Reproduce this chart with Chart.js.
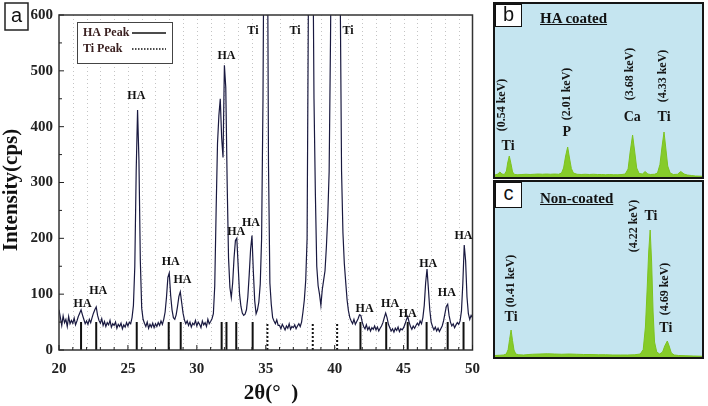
<!DOCTYPE html>
<html>
<head>
<meta charset="utf-8">
<script src="https://cdn.jsdelivr.net/npm/chart.js@4.4.0/dist/chart.umd.min.js"></script>
<style>
body{margin:0;background:#fff;width:708px;height:406px;overflow:hidden;position:relative;}
#xrd{position:absolute;left:0;top:0;}
.panel{position:absolute;left:493px;width:207px;border:2px solid #151515;background:#c5e5f0;}
#pb{top:2px;height:173px;}
#pc{top:180px;height:175px;}
.panel canvas{position:absolute;left:0;top:0;}
.tag{position:absolute;left:0;top:0;width:25px;height:21px;background:#fff;border:1.5px solid #111;
  font:20px "Liberation Sans",Arial,sans-serif;line-height:19px;text-align:center;color:#111;}
.ttl{position:absolute;left:45px;font:bold 15px "Liberation Serif","Times New Roman",serif;text-decoration:underline;color:#111;white-space:nowrap;}
</style>
</head>
<body>
<canvas id="xrd" width="490" height="406"></canvas>
<div class="panel" id="pb">
  <canvas id="edsB" width="207" height="173"></canvas>
  <div class="tag">b</div>
  <div class="ttl" style="top:6px">HA coated</div>
</div>
<div class="panel" id="pc">
  <canvas id="edsC" width="207" height="175"></canvas>
  <div class="tag" style="height:24px;line-height:21px">c</div>
  <div class="ttl" style="top:8px">Non-coated</div>
</div>
<script>
// ---- XRD spectrum (a) ----
const twoTheta = [
  20.0,20.1,20.2,20.3,20.4,20.5,20.6,20.7,20.8,20.9,
  21.0,21.1,21.2,21.3,21.4,21.5,21.6,21.7,21.8,21.9,
  22.0,22.1,22.2,22.3,22.4,22.5,22.6,22.7,22.8,22.9,
  23.0,23.1,23.2,23.3,23.4,23.5,23.6,23.7,23.8,23.9,
  24.0,24.1,24.2,24.3,24.4,24.5,24.6,24.7,24.8,24.9,
  25.0,25.1,25.2,25.3,25.4,25.5,25.6,25.7,25.8,25.9,
  26.0,26.1,26.2,26.3,26.4,26.5,26.6,26.7,26.8,26.9,
  27.0,27.1,27.2,27.3,27.4,27.5,27.6,27.7,27.8,27.9,
  28.0,28.1,28.2,28.3,28.4,28.5,28.6,28.7,28.8,28.9,
  29.0,29.1,29.2,29.3,29.4,29.5,29.6,29.7,29.8,29.9,
  30.0,30.1,30.2,30.3,30.4,30.5,30.6,30.7,30.8,30.9,
  31.0,31.1,31.2,31.3,31.4,31.5,31.6,31.7,31.8,31.9,
  32.0,32.1,32.2,32.3,32.4,32.5,32.6,32.7,32.8,32.9,
  33.0,33.1,33.2,33.3,33.4,33.5,33.6,33.7,33.8,33.9,
  34.0,34.1,34.2,34.3,34.4,34.5,34.6,34.7,34.8,34.9,
  35.0,35.1,35.2,35.3,35.4,35.5,35.6,35.7,35.8,35.9,
  36.0,36.1,36.2,36.3,36.4,36.5,36.6,36.7,36.8,36.9,
  37.0,37.1,37.2,37.3,37.4,37.5,37.6,37.7,37.8,37.9,
  38.0,38.1,38.2,38.3,38.4,38.5,38.6,38.7,38.8,38.9,
  39.0,39.1,39.2,39.3,39.4,39.5,39.6,39.7,39.8,39.9,
  40.0,40.1,40.2,40.3,40.4,40.5,40.6,40.7,40.8,40.9,
  41.0,41.1,41.2,41.3,41.4,41.5,41.6,41.7,41.8,41.9,
  42.0,42.1,42.2,42.3,42.4,42.5,42.6,42.7,42.8,42.9,
  43.0,43.1,43.2,43.3,43.4,43.5,43.6,43.7,43.8,43.9,
  44.0,44.1,44.2,44.3,44.4,44.5,44.6,44.7,44.8,44.9,
  45.0,45.1,45.2,45.3,45.4,45.5,45.6,45.7,45.8,45.9,
  46.0,46.1,46.2,46.3,46.4,46.5,46.6,46.7,46.8,46.9,
  47.0,47.1,47.2,47.3,47.4,47.5,47.6,47.7,47.8,47.9,
  48.0,48.1,48.2,48.3,48.4,48.5,48.6,48.7,48.8,48.9,
  49.0,49.1,49.2,49.3,49.4,49.5,49.6,49.7,49.8,49.9,
  50.0
];
const intensity = [
  72,58,44,61,49,55,42,60,47,53,
  48,57,45,52,60,66,72,63,55,47,
  52,46,55,49,58,66,72,77,62,53,
  48,56,44,51,42,49,45,53,41,47,
  44,50,39,46,42,48,38,45,41,49,
  43,50,47,58,80,150,320,430,340,160,
  75,55,48,42,50,39,46,41,48,40,
  47,42,49,44,52,46,55,68,95,130,
  138,98,72,58,55,63,78,96,104,85,
  66,54,47,52,44,50,41,48,45,53,
  43,50,46,40,52,45,49,42,55,47,
  51,56,65,115,250,370,420,450,380,345,
  510,470,300,165,112,94,120,165,196,200,
  150,100,78,66,62,64,72,95,135,180,
  205,140,88,65,72,86,118,200,450,900,
  1000,900,330,120,82,58,52,47,54,44,
  44,38,46,41,36,43,39,47,37,42,
  40,45,38,43,47,42,50,68,90,125,
  200,650,1000,1000,800,450,280,150,115,100,
  80,108,125,142,185,240,320,560,900,1000,
  1000,1000,1000,1000,650,320,210,155,122,90,
  70,58,52,47,55,46,51,56,63,62,
  50,42,38,45,36,41,34,40,37,43,
  36,41,34,39,43,49,58,66,58,46,
  40,34,38,32,39,35,41,33,38,36,
  40,46,54,60,50,42,37,43,39,44,
  48,44,52,47,58,80,120,145,110,72,
  50,42,36,41,34,39,33,38,43,52,
  65,78,82,62,50,43,47,40,45,49,
  46,52,70,120,188,160,95,65,55,62,
  58
];
// reference stick positions
const haPeaks = [21.6, 22.7, 25.64, 27.96, 28.83, 31.8, 32.15, 32.86, 34.05, 41.87, 43.74, 45.3, 46.67, 48.2, 49.35];
const tiPeaks = [35.12, 38.41, 40.18];
const stickHeight = 50;

// peak annotations: text, 2theta, cps
const xrdLabelText = ['HA','HA','HA','HA','HA','HA','HA','HA','Ti','Ti','Ti','HA','HA','HA','HA','HA','HA'];
const xrdLabelX = [21.71, 22.84, 25.61, 28.1, 28.96, 32.15, 32.86, 33.93, 34.07, 37.13, 40.97, 42.17, 44.02, 45.3, 46.79, 48.14, 49.35];
const xrdLabelY = [83, 106, 455, 158, 126, 527, 211, 228, 572, 572, 572, 74, 83, 65, 154, 103, 204];

// ---- EDS (b) HA coated ----
const keVB = [0.19,0.26,0.31,0.36,0.42,0.47,0.50,0.54,0.58,0.62,0.67,0.75,0.85,0.95,1.05,1.15,1.25,1.35,1.45,1.55,1.65,1.75,
  1.82,1.87,1.92,1.97,2.01,2.06,2.11,2.2,2.3,2.4,2.5,2.6,2.7,2.8,2.9,3.0,3.1,3.2,3.3,3.38,3.45,3.5,3.56,3.61,3.66,3.72,
  3.80,3.87,3.93,4.0,4.1,4.17,4.23,4.28,4.33,4.37,4.42,4.48,4.56,4.66,4.74,4.82,4.9,5.0,5.1,5.26];
const countsB = [40,60,100,60,50,120,280,420,270,100,50,45,50,55,50,55,60,55,60,55,60,55,
  80,180,420,600,400,170,80,55,50,55,50,55,50,50,45,50,45,45,50,60,160,500,840,520,180,70,
  60,110,60,50,55,80,250,600,900,600,220,80,50,55,110,60,40,30,20,15];
const edsLabelsB = [['(0.54 keV)',0.36,1440,true],['Ti',0.51,620,false],['(2.01 keV)',1.95,1660,true],['P',1.95,900,false],
  ['(3.68 keV)',3.5,2060,true],['Ca',3.55,1200,false],['(4.33 keV)',4.31,2020,true],['Ti',4.33,1200,false]];

// ---- EDS (c) Non-coated ----
const keVC = [-0.03,0.1,0.2,0.28,0.33,0.37,0.41,0.45,0.49,0.54,0.62,0.75,0.9,1.0,1.2,1.4,1.6,1.8,2.0,2.2,2.4,2.6,2.8,3.0,3.2,3.4,3.6,3.8,
  3.95,4.03,4.09,4.14,4.18,4.22,4.26,4.30,4.34,4.40,4.48,4.56,4.62,4.69,4.74,4.80,4.88,5.0,5.2,5.4,5.64];
const countsC = [30,35,40,60,150,350,540,330,140,60,45,40,50,55,60,65,60,55,60,55,50,50,45,45,40,40,40,45,
  60,150,600,1400,2100,2540,1900,900,300,100,60,100,220,320,220,80,40,30,25,20,15];
const edsLabelsC = [['(4.22 keV)',3.78,2620,true],['Ti',4.24,2820,false],['(0.41 keV)',0.41,1520,true],['Ti',0.41,800,false],
  ['(4.69 keV)',4.63,1360,true],['Ti',4.65,580,false]];

const SERIF = '"Liberation Serif","Times New Roman",serif';

function stickData(list, h) {
  const pts = [];
  list.forEach(p => { pts.push({x: p, y: 0}, {x: p, y: h}, {x: p, y: null}); });
  return pts;
}

const xrdDecor = {
  id: 'xrdDecor',
  beforeDatasetsDraw(chart) {
    const {ctx, chartArea: a, scales: {x}} = chart;
    ctx.save();
    ctx.strokeStyle = '#c4c4c4';
    ctx.lineWidth = 1;
    ctx.setLineDash([1, 3]);
    for (let v = 21; v < 50; v++) {
      const px = Math.round(x.getPixelForValue(v)) + 0.5;
      ctx.beginPath(); ctx.moveTo(px, a.top); ctx.lineTo(px, a.bottom); ctx.stroke();
    }
    ctx.restore();
  },
  afterDraw(chart) {
    const {ctx, chartArea: a, scales: {x, y}} = chart;
    ctx.save();
    // frame
    ctx.strokeStyle = '#333';
    ctx.lineWidth = 1.5;
    ctx.strokeRect(a.left, a.top, a.right - a.left, a.bottom - a.top);
    // inward ticks
    ctx.lineWidth = 1;
    ctx.strokeStyle = '#222';
    for (let v = 20; v <= 50; v++) {
      const px = x.getPixelForValue(v);
      const len = v % 5 === 0 ? 5 : 3;
      ctx.beginPath(); ctx.moveTo(px, a.bottom); ctx.lineTo(px, a.bottom - len); ctx.stroke();
    }
    for (let v = 0; v <= 600; v += 50) {
      const py = y.getPixelForValue(v);
      const len = v % 100 === 0 ? 5 : 3;
      ctx.beginPath(); ctx.moveTo(a.left, py); ctx.lineTo(a.left + len, py); ctx.stroke();
    }
    // peak labels
    ctx.fillStyle = '#111';
    ctx.font = 'bold 12px ' + SERIF;
    ctx.textAlign = 'center';
    ctx.textBaseline = 'middle';
    xrdLabelText.forEach((t, i) => {
      ctx.fillText(t, x.getPixelForValue(xrdLabelX[i]), y.getPixelForValue(xrdLabelY[i]));
    });
    // legend box
    ctx.fillStyle = '#fff';
    ctx.fillRect(77, 22, 95, 41);
    ctx.strokeStyle = '#444';
    ctx.strokeRect(77.5, 22.5, 95, 41);
    ctx.fillStyle = '#3a2020';
    ctx.textAlign = 'left';
    ctx.fillText('HA Peak', 83, 33);
    ctx.fillText('Ti Peak', 83, 49);
    ctx.strokeStyle = '#111';
    ctx.lineWidth = 1.5;
    ctx.beginPath(); ctx.moveTo(132, 33); ctx.lineTo(166, 33); ctx.stroke();
    ctx.setLineDash([1.5, 1.5]);
    ctx.beginPath(); ctx.moveTo(132, 49); ctx.lineTo(166, 49); ctx.stroke();
    ctx.setLineDash([]);
    // axis titles
    ctx.fillStyle = '#111';
    ctx.font = 'bold 21px ' + SERIF;
    ctx.textAlign = 'center';
    ctx.fillText('2\u03b8(\u00b0  )', 271, 394);
    ctx.save();
    ctx.translate(12, 190);
    ctx.rotate(-Math.PI / 2);
    ctx.fillText('Intensity(cps)', 0, 0);
    ctx.restore();
    // panel tag "a"
    ctx.fillStyle = '#fff';
    ctx.fillRect(5, 3, 23, 27);
    ctx.strokeStyle = '#222';
    ctx.lineWidth = 1.5;
    ctx.strokeRect(5, 3, 23, 27);
    ctx.fillStyle = '#111';
    ctx.font = '20px "Liberation Sans",Arial,sans-serif';
    ctx.fillText('a', 16.5, 16);
    ctx.restore();
  }
};

new Chart(document.getElementById('xrd'), {
  type: 'line',
  data: {
    datasets: [
      {data: stickData(haPeaks, stickHeight), borderColor: '#111', borderWidth: 2, pointRadius: 0, spanGaps: false, order: 0},
      {data: stickData(tiPeaks, stickHeight), borderColor: '#111', borderWidth: 2, borderDash: [2, 2], pointRadius: 0, spanGaps: false, order: 0},
      {data: twoTheta.map((t, i) => ({x: t, y: intensity[i]})), borderColor: '#191940', borderWidth: 1.2, pointRadius: 0, tension: 0, order: 1}
    ]
  },
  options: {
    responsive: false,
    animation: false,
    layout: {padding: {top: 11, right: 9, left: 0, bottom: 0}},
    plugins: {legend: {display: false}, tooltip: {enabled: false}},
    scales: {
      x: {
        type: 'linear', min: 20, max: 50,
        grid: {display: false, drawTicks: false, tickLength: 0}, border: {display: false},
        ticks: {stepSize: 5, padding: 10, maxRotation: 0, color: '#222', font: {family: SERIF, size: 15, weight: 'bold'}},
        afterFit(s) { s.height = 56; }
      },
      y: {
        min: 0, max: 600,
        grid: {display: false, drawTicks: false, tickLength: 0}, border: {display: false},
        ticks: {stepSize: 100, padding: 6, color: '#222', font: {family: SERIF, size: 15, weight: 'bold'}},
        afterFit(s) { s.width = 59; }
      }
    }
  },
  plugins: [xrdDecor]
});

function edsLabels(list) {
  return {
    id: 'edsLabels',
    afterDraw(chart) {
      const {ctx, scales: {x, y}} = chart;
      ctx.save();
      ctx.fillStyle = '#151515';
      ctx.textAlign = 'center';
      ctx.textBaseline = 'middle';
      list.forEach(([t, vx, vy, rot]) => {
        const px = x.getPixelForValue(vx), py = y.getPixelForValue(vy);
        if (rot) {
          ctx.font = 'bold 12px ' + SERIF;
          ctx.save(); ctx.translate(px, py); ctx.rotate(-Math.PI / 2); ctx.fillText(t, 0, 0); ctx.restore();
        } else {
          ctx.font = 'bold 14px ' + SERIF;
          ctx.fillText(t, px, py);
        }
      });
      ctx.restore();
    }
  };
}

function edsChart(id, keV, counts, xMin, xMax, yMax, labels) {
  return new Chart(document.getElementById(id), {
    type: 'line',
    data: {
      datasets: [{
        data: keV.map((k, i) => ({x: k, y: counts[i]})),
        borderColor: '#7cc21f', backgroundColor: '#86cb2a',
        borderWidth: 1, pointRadius: 0, fill: 'origin', tension: 0
      }]
    },
    options: {
      responsive: false,
      animation: false,
      layout: {padding: 0},
      plugins: {legend: {display: false}, tooltip: {enabled: false}},
      scales: {
        x: {type: 'linear', min: xMin, max: xMax, display: false},
        y: {min: 0, max: yMax, display: false}
      }
    },
    plugins: [edsLabels(labels)]
  });
}

edsChart('edsB', keVB, countsB, 0.19, 5.26, 3460, edsLabelsB);
edsChart('edsC', keVC, countsC, -0.03, 5.64, 3500, edsLabelsC);
</script>
</body>
</html>
